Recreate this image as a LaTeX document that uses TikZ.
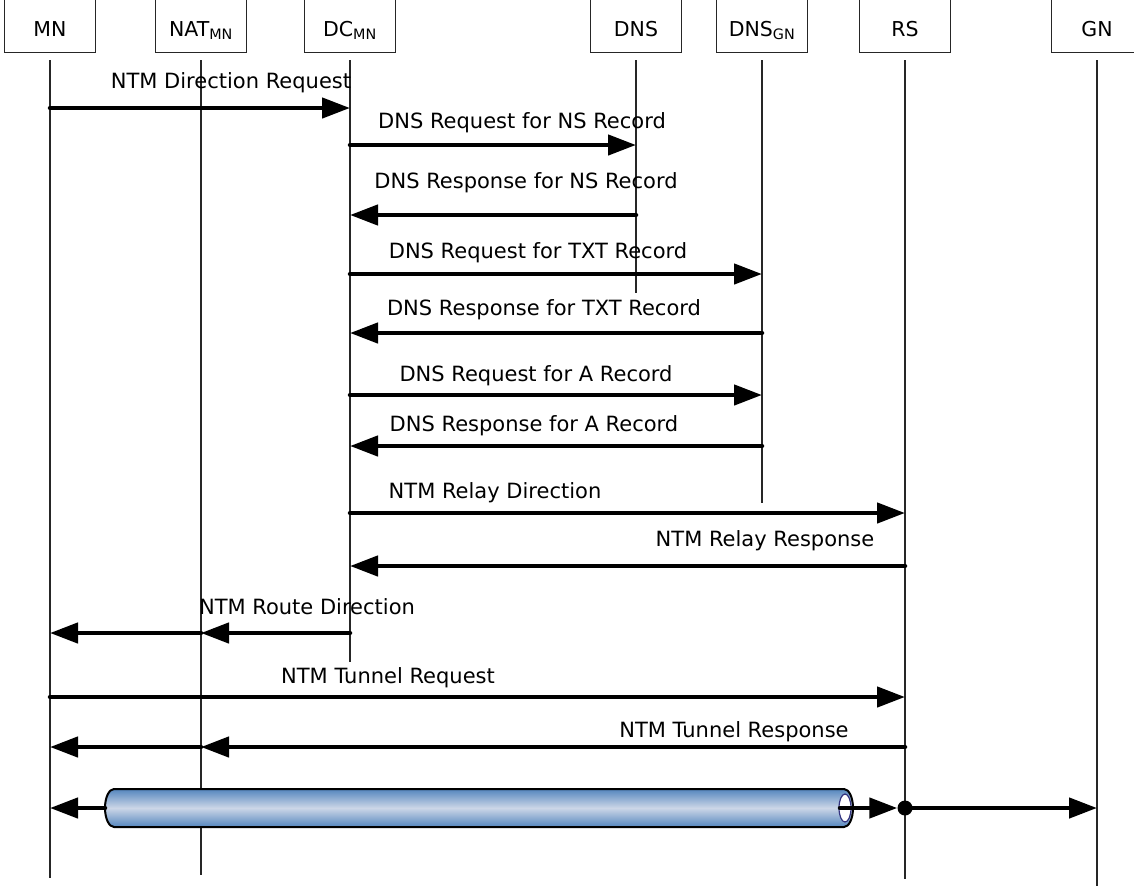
\documentclass[tikz,border=0pt]{standalone}
\usepackage{fontspec}
\setmainfont{DejaVu Sans}
\usetikzlibrary{arrows.meta, positioning}
\definecolor{tubedark}{RGB}{84, 134, 190}
\definecolor{tubelight}{RGB}{204, 214, 231}
\definecolor{tubeedge}{RGB}{52, 52, 128}

\begin{document}
\begin{tikzpicture}[x=1pt, y=-1pt,
    head/.style={minimum width=91pt, minimum height=56pt, inner sep=0pt,
        text height=24pt, text depth=0pt, font=\fontsize{20.5}{24}\selectfont},
    life/.style={black!85, line width=1.3pt},
    msg/.style={line width=4.5pt, line cap=round, -{Triangle[length=28pt,width=20pt]}},
    lbl/.style={anchor=base, inner sep=0pt, font=\fontsize{21}{25}\selectfont}]
    \useasboundingbox (0,0) rectangle (1134,886);

    % heads and lifelines
    \foreach \n/\t/\x/\l in {mn/MN/50/818, nat/NAT\textsubscript{MN}/201/815,
        dc/DC\textsubscript{MN}/350/602, dns/DNS/636/233,
        dnsgn/DNS\textsubscript{GN}/762/443, rs/RS/905/819, gn/GN/1097/826}
    {
        \node[head] (\n) at (\x,24) {\t};
        \draw[black!85, line width=1.2pt] (\n.north west) -- (\n.south west)
            -- (\n.south east) -- (\n.north east);
        \draw[life] ([yshift=-8pt]\n.south) -- ++(0,\l);
    }

    % messages
    \foreach \a/\b/\y/\x/\s/\t [count=\i] in {
        mn/dc/108/231/88/NTM Direction Request,
        dc/dns/145/522/128/DNS Request for NS Record,
        dns/dc/215/526/188/DNS Response for NS Record,
        dc/dnsgn/274/538/258/DNS Request for TXT Record,
        dnsgn/dc/333/544/315/DNS Response for TXT Record,
        dc/dnsgn/395/536/381/DNS Request for A Record,
        dnsgn/dc/446/534/431/DNS Response for A Record,
        dc/rs/513/495/498/NTM Relay Direction,
        rs/dc/566/765/546/NTM Relay Response,
        dc/nat/633/307/614/NTM Route Direction,
        mn/rs/697/388/683/NTM Tunnel Request,
        rs/nat/747/734/737/NTM Tunnel Response}
    {
        \coordinate (row\i) at (0,\y);
        \draw[msg] (\a |- row\i) -- (\b |- row\i);
        \node[lbl] (label\i) at (\x,\s) {\t};
    }
    \draw[msg] (nat |- row10) -- (mn |- row10);
    \draw[msg] (nat |- row12) -- (mn |- row12);

    % tunnel
    \coordinate (row13) at (0,808);
    \coordinate (tubel) at (105,808);
    \coordinate (tuber) at (840,808);
    \shade[top color=tubedark, bottom color=tubedark, middle color=tubelight,
        draw=black, line width=2pt]
        (114,789) -- (844,789) arc[start angle=-90, end angle=90, x radius=9, y radius=19]
        -- (114,827) arc[start angle=90, end angle=270, x radius=9, y radius=19] -- cycle;
    \draw[tubeedge, fill=white, line width=1.2pt] (845,808) ellipse[x radius=6, y radius=14];
    \node[circle, fill, inner sep=0pt, minimum size=15pt] (relay) at (rs |- row13) {};
    \draw[msg] (tubel) -- (mn |- row13);
    \draw[msg] (tuber) -- (relay.west);
    \draw[msg] (relay) -- (gn |- row13);
\end{tikzpicture}
\end{document}
